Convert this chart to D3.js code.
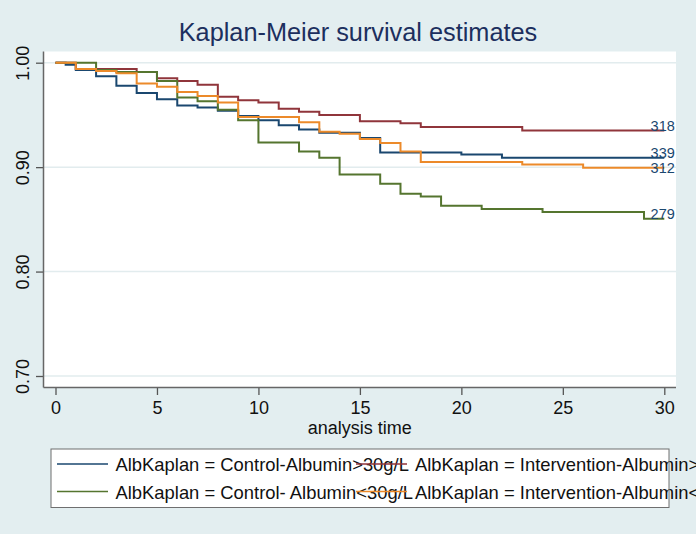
<!DOCTYPE html>
<html>
<head>
<meta charset="utf-8">
<script src="https://cdn.jsdelivr.net/npm/d3@7"></script>
<style>
  body { margin: 0; background: #e3eef0; }
  svg { display: block; font-family: "Liberation Sans", Arial, sans-serif; }
</style>
</head>
<body>
<svg id="chart" width="696" height="534"></svg>
<script>
// step times and survival estimates
const ctrlHighT = [0, 0.5, 1, 2, 3, 4, 5, 6, 7, 8, 9, 10, 11, 12, 13, 15, 16, 20, 22, 30];
const ctrlHighS = [1, 0.998, 0.993, 0.987, 0.978, 0.971, 0.965, 0.959, 0.957, 0.954, 0.949, 0.945, 0.940, 0.936, 0.933, 0.928, 0.914, 0.912, 0.909, 0.909];

const intvHighT = [0, 1, 4, 5, 6, 7, 8, 9, 10, 11, 12, 13, 15, 17, 18, 23, 30];
const intvHighS = [1, 0.994, 0.991, 0.985, 0.9825, 0.979, 0.9675, 0.964, 0.962, 0.956, 0.953, 0.950, 0.944, 0.942, 0.9385, 0.935, 0.935];

const ctrlLowT = [0, 2, 3, 5, 6, 7, 8, 9, 10, 12, 13, 14, 16, 17, 18, 19, 21, 24, 29, 30];
const ctrlLowS = [1, 0.993, 0.991, 0.9825, 0.9666, 0.963, 0.955, 0.945, 0.9235, 0.915, 0.909, 0.893, 0.884, 0.8745, 0.872, 0.863, 0.860, 0.857, 0.8506, 0.8506];

const intvLowT = [0, 1, 2, 3, 4, 5, 6, 7, 8, 9, 12, 13, 14, 15, 16, 17, 18, 23, 26, 30];
const intvLowS = [1, 0.994, 0.992, 0.990, 0.980, 0.977, 0.972, 0.968, 0.962, 0.948, 0.943, 0.934, 0.932, 0.927, 0.923, 0.915, 0.905, 0.9025, 0.8993, 0.8993];

const seriesNames = [
  "AlbKaplan = Control-Albumin>30g/L",
  "AlbKaplan = Intervention-Albumin>30g/L",
  "AlbKaplan = Control- Albumin<30g/L",
  "AlbKaplan = Intervention-Albumin<30g/L"
];
const atRisk = ["339", "318", "279", "312"];

const xTicks = [0, 5, 10, 15, 20, 25, 30];
const yTicks = [0.70, 0.80, 0.90, 1.00];

const colors = ["#1a476f", "#90353b", "#55752f", "#ec8a2a"];

const series = [
  { t: ctrlHighT, s: ctrlHighS },
  { t: intvHighT, s: intvHighS },
  { t: ctrlLowT, s: ctrlLowS },
  { t: intvLowT, s: intvLowS }
].map((d, i) => ({
  name: seriesNames[i],
  label: atRisk[i],
  color: colors[i],
  values: d.t.map((t, j) => ({ t: t, s: d.s[j] }))
}));

const svg = d3.select("#chart");

// plot region
const plot = { left: 43.5, right: 676, top: 51.5, bottom: 387.5 };

const x = d3.scaleLinear().domain([0, 30]).range([55.5, 664.3]);
const y = d3.scaleLinear().domain([0.70, 1.00]).range([376, 62.7]);

svg.append("rect")
  .attr("width", 696).attr("height", 534)
  .attr("fill", "#e3eef0");

svg.append("rect")
  .attr("x", plot.left).attr("y", plot.top)
  .attr("width", plot.right - plot.left)
  .attr("height", plot.bottom - plot.top)
  .attr("fill", "#ffffff");

// grid
svg.append("g")
  .selectAll("line")
  .data(yTicks)
  .enter()
  .append("line")
  .attr("x1", plot.left).attr("x2", plot.right)
  .attr("y1", d => y(d)).attr("y2", d => y(d))
  .attr("stroke", "#e2ecee")
  .attr("stroke-width", 1.5);

// title
svg.append("text")
  .attr("x", 358).attr("y", 41)
  .attr("text-anchor", "middle")
  .attr("font-size", 25.3)
  .attr("fill", "#1c2f5e")
  .text("Kaplan-Meier survival estimates");

// axes
const yAxis = d3.axisLeft(y)
  .tickValues(yTicks)
  .tickFormat(d3.format(".2f"))
  .tickSize(7.5)
  .tickSizeOuter(0);

const gy = svg.append("g")
  .attr("transform", `translate(${plot.left},0)`)
  .call(yAxis);
gy.select(".domain").remove();
gy.selectAll(".tick line").attr("stroke", "#555").attr("stroke-width", 1.3);
gy.selectAll(".tick text")
  .attr("font-size", 18)
  .attr("fill", "#111")
  .attr("text-anchor", "middle")
  .attr("x", null).attr("dy", null)
  .attr("transform", "translate(-15,0) rotate(-90)");

const xAxis = d3.axisBottom(x)
  .tickValues(xTicks)
  .tickSize(7.5)
  .tickSizeOuter(0);

const gx = svg.append("g")
  .attr("transform", `translate(0,${plot.bottom})`)
  .call(xAxis);
gx.select(".domain").remove();
gx.selectAll(".tick line").attr("stroke", "#555").attr("stroke-width", 1.3);
gx.selectAll(".tick text")
  .attr("font-size", 18)
  .attr("fill", "#111")
  .attr("y", 26.5).attr("dy", null);

svg.append("line")
  .attr("x1", plot.left).attr("x2", plot.left)
  .attr("y1", plot.top).attr("y2", plot.bottom)
  .attr("stroke", "#666").attr("stroke-width", 1.5);
svg.append("line")
  .attr("x1", plot.left).attr("x2", plot.right)
  .attr("y1", plot.bottom).attr("y2", plot.bottom)
  .attr("stroke", "#666").attr("stroke-width", 1.5);

svg.append("text")
  .attr("x", (plot.left + plot.right) / 2).attr("y", 434)
  .attr("text-anchor", "middle")
  .attr("font-size", 18)
  .attr("fill", "#111")
  .text("analysis time");

// survival curves
const line = d3.line()
  .x(d => x(d.t))
  .y(d => y(d.s))
  .curve(d3.curveStepAfter);

svg.append("g")
  .selectAll("path")
  .data(series)
  .enter()
  .append("path")
  .attr("fill", "none")
  .attr("stroke", d => d.color)
  .attr("stroke-width", 2)
  .attr("d", d => line(d.values));

// number at risk labels at the end of each curve, nudged apart
const ends = series
  .map(d => ({ label: d.label, yy: y(d.values[d.values.length - 1].s) }))
  .sort((a, b) => a.yy - b.yy);
for (let i = 1; i < ends.length; i++) {
  if (ends[i].yy - ends[i - 1].yy < 15) ends[i].yy = ends[i - 1].yy + 15;
}
svg.append("g")
  .selectAll("text")
  .data(ends)
  .enter()
  .append("text")
  .attr("x", x(30) + 10.5)
  .attr("y", d => d.yy)
  .attr("text-anchor", "end")
  .attr("font-size", 14.5)
  .attr("fill", "#1a476f")
  .text(d => d.label);

// legend (two columns, text overflows like the original)
const legend = svg.append("g");
const colX = [57, 356];
const rowY = [464, 491.5];

legend.append("rect")
  .attr("x", 51).attr("y", 449)
  .attr("width", 618).attr("height", 58.5)
  .attr("fill", "#ffffff");

series.forEach((d, i) => {
  const col = i % 2, row = Math.floor(i / 2);
  legend.append("text")
    .attr("x", colX[col] + (col === 0 ? 58.5 : 59))
    .attr("y", rowY[row] + 7)
    .attr("font-size", 18.4)
    .attr("fill", "#111")
    .text(d.name);
});
series.forEach((d, i) => {
  const col = i % 2, row = Math.floor(i / 2);
  legend.append("line")
    .attr("x1", colX[col]).attr("x2", colX[col] + 51)
    .attr("y1", rowY[row]).attr("y2", rowY[row])
    .attr("stroke", d.color)
    .attr("stroke-width", 1.5);
});

legend.append("rect")
  .attr("x", 51).attr("y", 449)
  .attr("width", 618).attr("height", 58.5)
  .attr("fill", "none")
  .attr("stroke", "#6f6f6f")
  .attr("stroke-width", 1);
</script>
</body>
</html>
